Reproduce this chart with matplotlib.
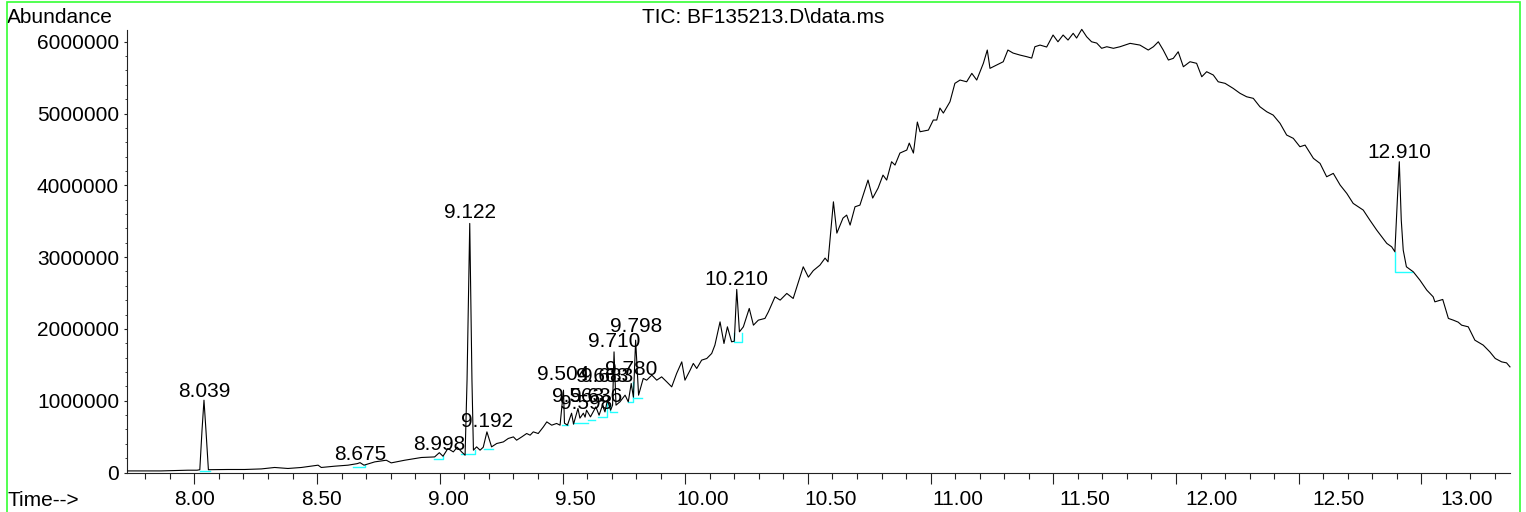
import matplotlib
matplotlib.use("Agg")
import matplotlib.pyplot as plt
from matplotlib.ticker import MultipleLocator, FixedLocator, FuncFormatter
from matplotlib.patches import Rectangle

plt.rcParams['font.family'] = ['Liberation Sans', 'DejaVu Sans']

# ---- data ----
time_min = [7.729, 7.864, 7.974, 8.011, 8.022, 8.031, 8.039, 8.047, 8.057, 8.137,
            8.205, 8.273, 8.327, 8.381, 8.436, 8.504, 8.517, 8.572, 8.626, 8.663,
            8.675, 8.691, 8.735, 8.782, 8.802, 8.857, 8.925, 8.979, 8.998, 9.013,
            9.033, 9.055, 9.071, 9.089, 9.103, 9.111, 9.122, 9.131, 9.137, 9.150,
            9.164, 9.177, 9.192, 9.211, 9.232, 9.259, 9.279, 9.300, 9.313, 9.334,
            9.354, 9.368, 9.381, 9.401, 9.422, 9.436, 9.456, 9.476, 9.490, 9.504,
            9.508, 9.520, 9.537, 9.545, 9.563, 9.571, 9.585, 9.592, 9.598, 9.614,
            9.636, 9.649, 9.663, 9.673, 9.683, 9.696, 9.704, 9.710, 9.718, 9.734,
            9.755, 9.768, 9.780, 9.789, 9.798, 9.810, 9.829, 9.843, 9.864, 9.884,
            9.904, 9.925, 9.945, 9.965, 9.986, 9.999, 10.020, 10.033, 10.047, 10.067,
            10.088, 10.108, 10.121, 10.142, 10.158, 10.172, 10.189, 10.200, 10.210, 10.221,
            10.237, 10.261, 10.278, 10.298, 10.325, 10.339, 10.366, 10.387, 10.414, 10.440,
            10.455, 10.481, 10.502, 10.522, 10.549, 10.570, 10.582, 10.604, 10.618, 10.643,
            10.658, 10.672, 10.692, 10.712, 10.745, 10.764, 10.786, 10.806, 10.821, 10.841,
            10.855, 10.875, 10.903, 10.913, 10.930, 10.946, 10.957, 10.991, 11.011, 11.025,
            11.038, 11.052, 11.079, 11.099, 11.120, 11.147, 11.168, 11.188, 11.215, 11.231,
            11.242, 11.269, 11.296, 11.315, 11.336, 11.364, 11.392, 11.412, 11.425, 11.446,
            11.473, 11.499, 11.519, 11.540, 11.560, 11.581, 11.595, 11.616, 11.636, 11.656,
            11.677, 11.697, 11.718, 11.745, 11.772, 11.813, 11.853, 11.887, 11.908, 11.928,
            11.948, 11.969, 11.989, 12.009, 12.030, 12.057, 12.084, 12.105, 12.125, 12.152,
            12.172, 12.200, 12.233, 12.261, 12.288, 12.315, 12.342, 12.370, 12.396, 12.424,
            12.451, 12.478, 12.505, 12.526, 12.560, 12.587, 12.614, 12.641, 12.669, 12.696,
            12.722, 12.763, 12.790, 12.818, 12.859, 12.879, 12.892, 12.902, 12.910, 12.918,
            12.926, 12.939, 12.967, 12.994, 13.022, 13.048, 13.055, 13.087, 13.110, 13.130,
            13.150, 13.164, 13.191, 13.218, 13.252, 13.279, 13.301, 13.327, 13.347, 13.361]

abundance = [22000, 22000, 32000, 32000, 39000, 589000, 1007000, 589000, 39000, 42000,
             42000, 50000, 70000, 56000, 70000, 102000, 70000, 88000, 102000, 123000,
             137000, 102000, 148000, 171000, 134000, 171000, 209000, 217000, 276000, 227000,
             334000, 287000, 352000, 287000, 241000, 1286000, 3469000, 1286000, 311000, 357000,
             311000, 352000, 566000, 357000, 404000, 426000, 474000, 496000, 450000, 496000,
             543000, 520000, 566000, 543000, 635000, 705000, 659000, 683000, 659000, 1147000,
             687000, 659000, 826000, 673000, 892000, 757000, 826000, 771000, 868000, 775000,
             914000, 798000, 938000, 844000, 1007000, 868000, 938000, 1680000, 938000, 984000,
             1077000, 984000, 1240000, 1049000, 1843000, 1077000, 1310000, 1286000, 1356000, 1286000,
             1332000, 1262000, 1193000, 1379000, 1541000, 1286000, 1425000, 1519000, 1449000, 1565000,
             1588000, 1658000, 1774000, 2098000, 1797000, 2029000, 1820000, 1829000, 2550000, 1959000,
             2029000, 2285000, 2052000, 2122000, 2146000, 2238000, 2447000, 2401000, 2494000, 2424000,
             2586000, 2865000, 2721000, 2812000, 2888000, 2986000, 2934000, 3770000, 3334000, 3543000,
             3585000, 3446000, 3701000, 3724000, 4073000, 3822000, 3961000, 4142000, 4073000, 4328000,
             4282000, 4449000, 4491000, 4588000, 4449000, 4881000, 4746000, 4769000, 4909000, 4909000,
             5076000, 5006000, 5164000, 5420000, 5466000, 5442000, 5559000, 5466000, 5699000, 5884000,
             5629000, 5675000, 5721000, 5884000, 5842000, 5814000, 5791000, 5772000, 5930000, 5953000,
             5926000, 6093000, 5999000, 6093000, 6023000, 6117000, 6051000, 6172000, 6069000, 5999000,
             5981000, 5908000, 5930000, 5908000, 5930000, 5977000, 5953000, 5884000, 5930000, 5999000,
             5884000, 5745000, 5768000, 5860000, 5651000, 5721000, 5699000, 5512000, 5582000, 5536000,
             5442000, 5420000, 5350000, 5281000, 5233000, 5211000, 5094000, 5024000, 4978000, 4863000,
             4700000, 4654000, 4537000, 4560000, 4375000, 4305000, 4119000, 4166000, 4003000, 3887000,
             3748000, 3655000, 3515000, 3376000, 3191000, 3143000, 3074000, 3794000, 4328000, 3515000,
             3097000, 2865000, 2795000, 2679000, 2540000, 2447000, 2377000, 2410000, 2146000, 2122000,
             2094000, 2052000, 2029000, 1843000, 1774000, 1680000, 1588000, 1541000, 1527000, 1471000]

peak_rt = [8.039, 8.675, 8.998, 9.122, 9.192, 9.504, 9.563, 9.598, 9.636, 9.663,
           9.683, 9.710, 9.780, 9.798, 10.210, 12.910]
peak_labels = ["8.039", "8.675", "8.998", "9.122", "9.192", "9.504", "9.563", "9.598",
               "9.636", "9.663", "9.683", "9.710", "9.780", "9.798", "10.210", "12.910"]
peak_label_y = [1049000, 171000, 311000, 3543000, 631000, 1286000, 980000, 882000,
                980000, 1258000, 1258000, 1746000, 1356000, 1955000, 2610000, 4379000]

baseline_t = [[8.022, 8.063], [8.647, 8.695, 8.695], [8.977, 9.014, 9.014],
              [9.086, 9.143, 9.143], [9.180, 9.217], [9.498, 9.522], [9.543, 9.604],
              [9.604, 9.632], [9.645, 9.682, 9.682], [9.694, 9.694, 9.722],
              [9.767, 9.788, 9.788], [9.788, 9.824], [10.200, 10.200, 10.232, 10.232],
              [12.892, 12.892, 12.960]]
baseline_v = [[15000, 15000], [78000, 78000, 102000], [189000, 189000, 227000],
              [255000, 255000, 311000], [334000, 334000], [659000, 659000], [691000, 691000],
              [738000, 738000], [775000, 775000, 966000], [938000, 844000, 844000],
              [984000, 984000, 1262000], [1031000, 1031000], [1941000, 1820000, 1820000, 1941000],
              [3074000, 2795000, 2795000]]

x_tick_values = [8.0, 8.5, 9.0, 9.5, 10.0, 10.5, 11.0, 11.5, 12.0, 12.5, 13.0]
x_tick_labels = ["8.00", "8.50", "9.00", "9.50", "10.00", "10.50", "11.00",
                 "11.50", "12.00", "12.50", "13.00"]
y_tick_values = [0, 1000000, 2000000, 3000000, 4000000, 5000000, 6000000]
y_tick_labels = ["0", "1000000", "2000000", "3000000", "4000000", "5000000", "6000000"]

FS = 15
W, H = 1526, 512
fig = plt.figure(figsize=(W / 100, H / 100), dpi=100)
fig.patch.set_facecolor('white')

rect = [127 / W, 1 - 472.5 / H, (1510 - 127) / W, (472.5 - 30) / H]
ax = fig.add_axes(rect)
ax.set_facecolor('white')

ax.plot(time_min, abundance, color='black', lw=0.8, clip_on=False, zorder=3)
for bt, bv in zip(baseline_t, baseline_v):
    ax.plot(bt, bv, color='#22ffff', lw=1.0, zorder=2)
for rt, txt, ly in zip(peak_rt, peak_labels, peak_label_y):
    ax.text(rt, ly, txt, ha='center', va='baseline', fontsize=FS, color='black', zorder=4)

ax.set_xlim(7.7253, 13.3611)
ax.set_ylim(0, 6.163e6)
for s in ['top', 'right']:
    ax.spines[s].set_visible(False)
for s in ['left', 'bottom']:
    ax.spines[s].set_linewidth(0.8)
    ax.spines[s].set_color('#222222')

ax.xaxis.set_major_locator(MultipleLocator(0.5))
ax.xaxis.set_minor_locator(MultipleLocator(0.1))
ax.tick_params(axis='x', which='major', direction='out', length=8, width=0.8,
               labelbottom=False, color='#222222')
ax.tick_params(axis='x', which='minor', direction='out', length=4.5, width=0.8,
               color='#222222')
ax.yaxis.set_major_locator(FixedLocator(y_tick_values))
ax.set_yticklabels(y_tick_labels)
ax.yaxis.set_minor_locator(MultipleLocator(200000))
ax.tick_params(axis='y', which='major', direction='out', length=2.5, width=0.8,
               labelsize=FS, pad=3.2, color='#222222')
ax.tick_params(axis='y', which='minor', direction='out', length=1.3, width=0.6,
               color='#222222')

# tick labels of the time axis (drawn on their own scale, as in the source)
ax2 = fig.add_axes(rect, frameon=False)
ax2.patch.set_visible(False)
ax2.set_xlim(7.7358, 13.1722)
ax2.set_ylim(0, 1)
ax2.set_xticks(x_tick_values)
ax2.set_xticklabels(x_tick_labels)
ax2.set_yticks([])
ax2.tick_params(axis='x', length=0, pad=12.3, labelsize=FS)

fig.text(7 / W, 1 - 22.7 / H, "Abundance", ha='left', va='baseline', fontsize=FS)
fig.text(763 / W, 1 - 22.7 / H, "TIC: BF135213.D\\data.ms", ha='center', va='baseline',
         fontsize=FS)
fig.text(7 / W, 1 - 506 / H, "Time-->", ha='left', va='baseline', fontsize=FS)

border = Rectangle((6.7 / W, -0.05), (1520 - 6.7) / W, 1.05 - 2.3 / H,
                   transform=fig.transFigure, fill=False, edgecolor='#33ff33',
                   lw=1.2, zorder=10)
fig.patches.append(border)

fig.savefig("out.png", dpi=100, facecolor='white')
